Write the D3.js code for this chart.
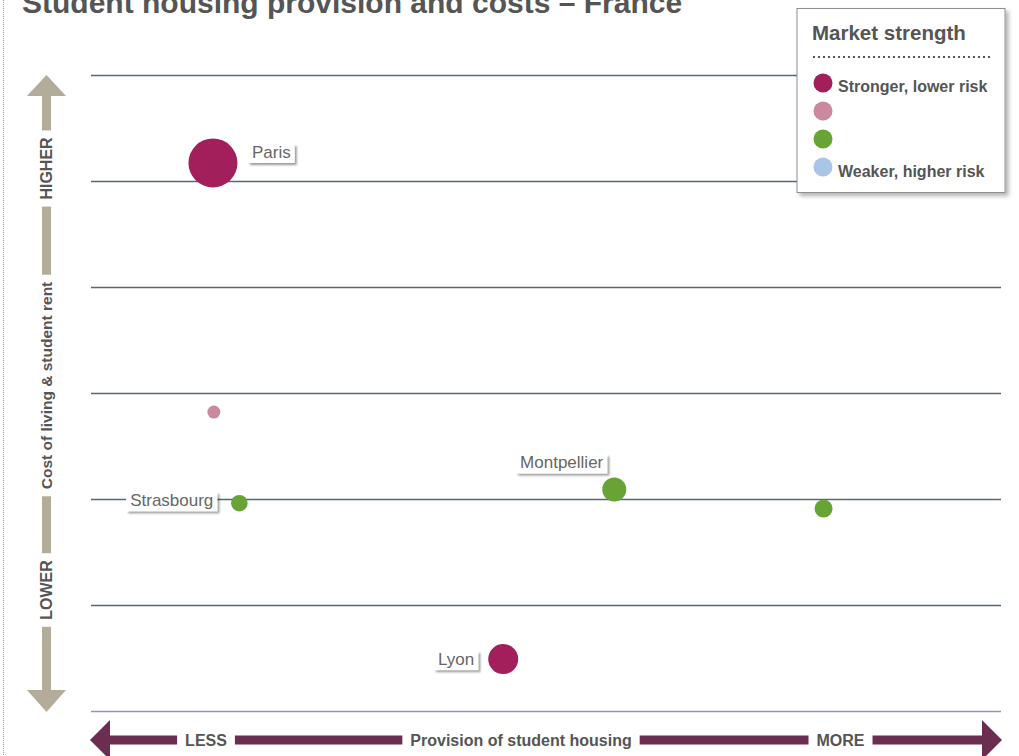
<!DOCTYPE html>
<html>
<head>
<meta charset="utf-8">
<script src="https://cdn.jsdelivr.net/npm/d3@7"></script>
<style>
  html, body { margin: 0; padding: 0; background: #fff; }
  svg { display: block; font-family: "Liberation Sans", Arial, Helvetica, sans-serif; }
</style>
</head>
<body>
<svg id="chart" width="1019" height="756"></svg>
<script>
// ---- data ----
const cities      = ["Paris", "", "Strasbourg", "Montpellier", "", "Lyon"];
const provision   = [1.34, 1.35, 1.63, 5.75, 8.05, 4.53];
const costOfLiving= [5.17, 2.82, 1.96, 2.09, 1.91, 0.49];
const marketSize  = [100, 7, 11.5, 24, 13.5, 37.5];
const strengthTier= [0, 1, 2, 2, 2, 0];
const tierLabels  = ["Stronger, lower risk", "", "", "Weaker, higher risk"];
const tierColors  = ["#a21f5c", "#c98a9e", "#67a335", "#a9c6e6"];
const yTicks      = [0, 1, 2, 3, 4, 5, 6];
const title       = "Student housing provision and costs \u2013 France";
const yAxisParts  = ["HIGHER", "Cost of living & student rent", "LOWER"];
const xAxisParts  = ["LESS", "Provision of student housing", "MORE"];

// label layout (offsets from point)
const labelLayout = [
  {dx: 39, dy: -5, anchor: "start"},
  null,
  {dx: -26, dy: 3, anchor: "end"},
  {dx: -11, dy: -21, anchor: "end"},
  null,
  {dx: -29, dy: 6, anchor: "end"}
];

const svg = d3.select("#chart");
const defs = svg.append("defs");
const f = defs.append("filter").attr("id", "shadow")
  .attr("x", "-20%").attr("y", "-20%").attr("width", "150%").attr("height", "160%");
f.append("feDropShadow").attr("dx", 2).attr("dy", 2).attr("stdDeviation", 1.3)
  .attr("flood-color", "#000").attr("flood-opacity", 0.4);
const f2 = defs.append("filter").attr("id", "shadow2")
  .attr("x", "-10%").attr("y", "-10%").attr("width", "130%").attr("height", "130%");
f2.append("feDropShadow").attr("dx", 3).attr("dy", 3).attr("stdDeviation", 2)
  .attr("flood-color", "#000").attr("flood-opacity", 0.3);

// left dotted border
svg.append("line").attr("x1", 3.5).attr("x2", 3.5).attr("y1", 0).attr("y2", 756)
  .attr("stroke", "#999").attr("stroke-width", 1).attr("stroke-dasharray", "1,1");

// title (cut at top edge, as in the reference)
svg.append("text").attr("x", 22).attr("y", 13)
  .attr("font-size", 30).attr("font-weight", "bold").attr("fill", "#555")
  .text(title);

// scales
const x = d3.scaleLinear().domain([0, 10]).range([91, 1001]);
const y = d3.scaleLinear().domain([0, 6]).range([711, 75]);
const r = d3.scaleSqrt().domain([0, 100]).range([0, 24.5]);

// grid via axis
const grid = svg.append("g").attr("transform", `translate(${x.range()[0]},0)`)
  .call(d3.axisLeft(y).tickValues(yTicks).tickSize(-(x.range()[1] - x.range()[0])).tickFormat(""));
grid.select(".domain").remove();
grid.selectAll(".tick line").attr("stroke", (d) => d === 0 ? "#8a9aaa" : "#55687a").attr("stroke-width", 1.4);

// y-axis arrow
const ax = 46.5;
const yArrow = svg.append("g");
const yc = "#b3ac99";
yArrow.append("rect").attr("x", ax - 4.5).attr("y", 95).attr("width", 9).attr("height", 596).attr("fill", yc);
yArrow.append("path").attr("d", `M${ax},75 L${ax + 19.5},96 L${ax - 19.5},96 Z`).attr("fill", yc);
yArrow.append("path").attr("d", `M${ax},712 L${ax + 19.5},690 L${ax - 19.5},690 Z`).attr("fill", yc);
const yCenters = [168.5, 385.5, 590];
yAxisParts.forEach((t, i) => {
  const g = yArrow.append("g").attr("transform", `translate(${ax},${yCenters[i]}) rotate(-90)`);
  const txt = g.append("text").attr("x", 0).attr("y", 5.7).attr("text-anchor", "middle")
    .attr("font-size", i === 1 ? 15.5 : 16).attr("font-weight", "bold").attr("fill", "#555").text(t);
  const w = txt.node().getComputedTextLength();
  g.insert("rect", "text").attr("x", -w / 2 - 7).attr("y", -8).attr("width", w + 14).attr("height", 16).attr("fill", "#fff");
});

// x-axis arrow
const ay = 740;
const xc = "#6b2e50";
const xArrow = svg.append("g");
xArrow.append("rect").attr("x", 105).attr("y", ay - 4.5).attr("width", 882).attr("height", 9).attr("fill", xc);
xArrow.append("path").attr("d", `M90,${ay} L110,${ay - 20} L110,${ay + 20} Z`).attr("fill", xc);
xArrow.append("path").attr("d", `M1002,${ay} L982,${ay - 20} L982,${ay + 20} Z`).attr("fill", xc);
const xCenters = [206, 521, 840.5];
xAxisParts.forEach((t, i) => {
  const g = xArrow.append("g").attr("transform", `translate(${xCenters[i]},${ay})`);
  const txt = g.append("text").attr("x", 0).attr("y", 6).attr("text-anchor", "middle")
    .attr("font-size", 16).attr("font-weight", "bold").attr("fill", "#555").text(t);
  const w = txt.node().getComputedTextLength();
  g.insert("rect", "text").attr("x", -w / 2 - 8).attr("y", -8).attr("width", w + 16).attr("height", 16).attr("fill", "#fff");
});

// points
const pts = cities.map((c, i) => ({
  name: c, px: provision[i], py: costOfLiving[i], size: marketSize[i], tier: strengthTier[i], lay: labelLayout[i]
}));
svg.append("g").selectAll("circle").data(pts).join("circle")
  .attr("cx", d => x(d.px)).attr("cy", d => y(d.py)).attr("r", d => r(d.size))
  .attr("fill", d => tierColors[d.tier]);

// labels
const lg = svg.append("g");
pts.filter(d => d.name && d.lay).forEach(d => {
  const g = lg.append("g").attr("transform", `translate(${x(d.px) + d.lay.dx},${y(d.py) + d.lay.dy})`);
  const txt = g.append("text").attr("text-anchor", d.lay.anchor).attr("font-size", 17)
    .attr("fill", "#666").text(d.name);
  const w = txt.node().getComputedTextLength();
  const x0 = d.lay.anchor === "end" ? -w : 0;
  g.insert("rect", "text").attr("x", x0 - 4).attr("y", -14).attr("width", w + 8).attr("height", 19)
    .attr("fill", "#fff").attr("filter", "url(#shadow)");
});

// legend
const leg = svg.append("g");
leg.append("rect").attr("x", 797).attr("y", 8.5).attr("width", 208).attr("height", 184)
  .attr("fill", "#fff").attr("stroke", "#8f8f8f").attr("stroke-width", 1).attr("filter", "url(#shadow2)");
leg.append("text").attr("x", 812).attr("y", 40).attr("font-size", 20.5).attr("font-weight", "bold")
  .attr("fill", "#555").text("Market strength");
leg.append("line").attr("x1", 813).attr("x2", 992).attr("y1", 57).attr("y2", 57)
  .attr("stroke", "#555").attr("stroke-width", 2).attr("stroke-dasharray", "2,3");
tierColors.forEach((c, i) => {
  leg.append("circle").attr("cx", 823).attr("cy", 83 + i * 28).attr("r", 9.5).attr("fill", c);
  if (tierLabels[i]) {
    leg.append("text").attr("x", 838).attr("y", 92 + i * 28.3).attr("font-size", 16)
      .attr("font-weight", "bold").attr("fill", "#555").text(tierLabels[i]);
  }
});
</script>
</body>
</html>
